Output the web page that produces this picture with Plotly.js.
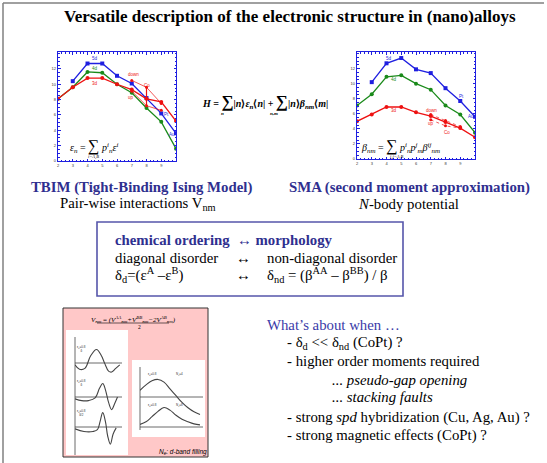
<!DOCTYPE html>
<html><head><meta charset="utf-8">
<script src="https://cdn.plot.ly/plotly-3.0.1.min.js"></script>
<style>html,body{margin:0;padding:0;background:#fff}#c{width:547px;height:463px}</style>
</head><body><div id="c"></div>
<script>
// ---------------- data ----------------
const Ne = [2, 3, 4, 5, 6, 7, 8, 9, 10];
const NeTail = [7, 8, 9];
// TBIM: on-site energies
const tb5d = [null, 10.4, 12.7, 12.7, 11.1, 10.1, 8.2, 6.2, 3.6];
const tb4d = [8.1, 9.6, 11.6, 11.5, 10.0, 8.9, 6.9, 5.1, 1.6];
const tb3d = [8.1, 9.6, 10.8, 10.8, 10.0, 9.3, 8.1, 7.7, 5.2];
const tbDown = [10.5, 9.6, 7.5];
const tbUp = [9.1, 7.2, 6.6];
// SMA: hopping integrals
const sma5d = [null, 10.2, 12.7, 13.4, 11.9, 11.4, 9.4, 7.7, 5.6];
const sma4d = [7.1, 8.6, 10.9, 11.1, 10.0, 9.2, 7.1, 5.9, 3.5];
const sma3d = [5.0, 5.9, 6.9, 6.9, 6.2, 5.7, 4.9, 4.1, 2.9];
const smaDown = [5.9, 5.1, 4.3];
const smaUp = [5.2, 4.4, 4.1];
const yTickVals = [0, 2, 4, 6, 8, 10, 12];
const xTickVals = [2, 3, 4, 5, 6, 7, 8, 9];
// inset schematic V_nm(N_e) curves
const vA_x = [0, 1, 2.2, 3.5, 4.8, 5.9, 6.6, 7.5, 8.2, 9.1, 10];
const vA_y = [-0.1, -0.35, -0.3, 0.4, 0.75, 0.4, 0, -0.45, -0.5, -0.3, -0.1];
const vB_x = [0, 1.5, 3, 4.5, 5.5, 6.2, 6.8, 7.5, 8.2, 8.8, 9.5];
const vB_y = [-0.1, -0.2, -0.2, -0.05, 0.5, 0.75, 0.4, -0.3, -0.7, -0.4, 0];
const vC_x = [0, 2, 4, 5, 5.6, 6.2, 6.8, 7.3, 7.9, 8.5, 9.2];
const vC_y = [-0.1, -0.25, -0.25, -0.15, 0.3, 0.8, 0.3, -0.5, -0.95, -0.4, -0.05];
const wA_x = [0, 1, 2, 3, 4, 5, 6, 7, 8, 9, 10];
const wA_y = [0.25, 0.45, 0.6, 0.65, 0.55, 0.3, 0.05, -0.2, -0.4, -0.55, -0.65];
const wB_x = [0, 1, 2, 3, 4, 5, 6, 7, 8, 9, 10];
const wB_y = [0.1, 0.2, 0.4, 0.6, 0.75, 0.65, 0.45, 0.3, 0.2, 0.12, 0.08];

// ---------------- helpers ----------------
const W = 547, H = 463;
const px = x => x / W, py = y => 1 - y / H;
const SERIF = 'Liberation Serif, Times New Roman, serif';
const BLUE = '#1f1fe0', GREEN = '#1a8a1a', RED = '#ee1111', NAVY = '#2f2f8f';

function chartAxes(x0, x1, y0, y1) {
  const common = {
    showgrid: false, zeroline: false, showline: true, linecolor: BLUE, linewidth: 1.2,
    mirror: 'allticks', ticks: 'inside', ticklen: 2.5, tickcolor: BLUE,
    tickfont: {size: 4, color: '#333', family: 'Liberation Sans, Arial'},
    minor: {ticks: 'inside', ticklen: 1.5, tickcolor: BLUE}
  };
  return [
    Object.assign({}, common, {domain: [px(x0), px(x1)], range: [2, 10], tickvals: xTickVals, minor: Object.assign({}, common.minor, {dtick: 0.25})}),
    Object.assign({}, common, {domain: [py(y1), py(y0)], range: [0, 14.2], tickvals: yTickVals, minor: Object.assign({}, common.minor, {dtick: 0.5})})
  ];
}
function miniAxes(x0, x1, y0, y1) {
  const ax = {showgrid: false, zeroline: false, showticklabels: false, ticks: '', showline: false, fixedrange: true};
  return [
    Object.assign({}, ax, {domain: [px(x0), px(x1)], range: [0, 10.5]}),
    Object.assign({}, ax, {domain: [py(y1), py(y0)], range: [-1, 1]})
  ];
}

const traces = [];
function series(x, y, color, sym, xa, ya, dash, w, ms) {
  traces.push({x: x, y: y, xaxis: xa, yaxis: ya, mode: 'lines+markers', type: 'scatter',
    line: {color: color, width: w || 1.3, dash: dash || 'solid'},
    marker: {color: color, symbol: sym, size: ms || 4}, connectgaps: false, hoverinfo: 'skip'});
}
// left chart (x, y)
series(Ne, tb5d, BLUE, 'square', 'x', 'y');
series(Ne, tb4d, GREEN, 'circle', 'x', 'y');
series(Ne, tb3d, RED, 'circle', 'x', 'y');
series(NeTail, tbDown, RED, 'circle', 'x', 'y', 'solid', 0.7, 3);
series(NeTail, tbUp, RED, 'circle', 'x', 'y', 'solid', 0.7, 3);
traces.push({x: [NeTail[1], NeTail[1]], y: [tbUp[1], tbDown[1]], xaxis: 'x', yaxis: 'y', mode: 'lines', line: {color: RED, width: 1.2}, hoverinfo: 'skip'});
// right chart (x2, y2)
series(Ne, sma5d, BLUE, 'square', 'x2', 'y2');
series(Ne, sma4d, GREEN, 'circle', 'x2', 'y2');
series(Ne, sma3d, RED, 'circle', 'x2', 'y2');
series(NeTail, smaDown, RED, 'circle', 'x2', 'y2', 'dot', 0.7, 3);
series(NeTail, smaUp, RED, 'circle', 'x2', 'y2', 'dot', 0.7, 3);
// inset curves
function mini(x, y, xa, ya) {
  traces.push({x: x, y: y, xaxis: xa, yaxis: ya, mode: 'lines', line: {color: '#444', width: 1.1, shape: 'spline', smoothing: 1.1}, hoverinfo: 'skip'});
}
mini(vA_x, vA_y, 'x3', 'y3');
mini(vB_x, vB_y, 'x4', 'y4');
mini(vC_x, vC_y, 'x5', 'y5');
mini(wA_x, wA_y, 'x6', 'y6');
mini(wB_x, wB_y, 'x7', 'y7');

const [xa1, ya1] = chartAxes(58, 176, 52, 161);
const [xa2, ya2] = chartAxes(357, 475, 52, 159);
const [xa3, ya3] = miniAxes(75, 122, 345, 381);
const [xa4, ya4] = miniAxes(75, 122, 379, 415);
const [xa5, ya5] = miniAxes(75, 122, 409, 445);
const [xa6, ya6] = miniAxes(140, 203, 370, 424);
const [xa7, ya7] = miniAxes(140, 203, 401, 453);

// ---------------- annotations ----------------
const ann = [];
function T(x, y, text, size, opts) {
  ann.push(Object.assign({xref: 'paper', yref: 'paper', x: px(x), y: py(y), text: text, showarrow: false,
    xanchor: 'center', yanchor: 'middle', font: {family: SERIF, size: size, color: '#000'}}, opts || {}));
}
function L(xa, ya, x, y, text, color, size) {
  ann.push({xref: xa, yref: ya, x: x, y: y, text: text, showarrow: false, font: {family: 'Liberation Sans, Arial', size: size || 4.5, color: color}});
}
const F = 14.8;
T(290, 17, '<b>Versatile description of the electronic structure in (nano)alloys</b>', 17);
T(141, 187, '<b>TBIM (Tight-Binding Ising Model)</b>', F, {font: {family: SERIF, size: F, color: NAVY}});
T(138, 204, 'Pair-wise interactions V<sub>nm</sub>', F);
T(409, 187, '<b>SMA (second moment approximation)</b>', F, {font: {family: SERIF, size: F, color: NAVY}});
T(408, 204, '<i>N</i>-body potential', F);
// middle hamiltonian
T(265, 102, '<b><i>H</i> = <span style="font-size:17px">∑</span>|<i>n</i>⟩<i>ε<sub>n</sub></i>⟨<i>n</i>| + <span style="font-size:17px">∑</span>|<i>n</i>⟩<i>β<sub>nm</sub></i>⟨<i>m</i>|</b>', 10);
T(222, 113, '<b><i>n</i></b>', 5);
T(274, 113, '<b><i>n,m</i></b>', 5);
// chart formulas
T(94, 146, '<i>ε<sub>n</sub></i> = <span style="font-size:16px">∑</span> <i>p<sup>i</sup><sub>n</sub>ε<sup>i</sup></i>', 10);
T(93, 157, '<i>i=A,B</i>', 4.5);
T(400, 146, '<i>β<sub>nm</sub></i> = <span style="font-size:16px">∑</span> <i>p<sup>i</sup><sub>n</sub>p<sup>j</sup><sub>m</sub>β<sup>ij</sup><sub>nm</sub></i>', 10);
T(397, 157, '<i>i,j=A,B</i>', 4.5);
// box
T(113, 240, '<b>chemical ordering  ↔ morphology</b>', F, {xanchor: 'left', font: {family: SERIF, size: F, color: NAVY}});
T(113, 258, 'diagonal disorder', F, {xanchor: 'left'});
T(243, 258, '↔', F);
T(265, 258, 'non-diagonal disorder', F, {xanchor: 'left'});
T(113, 275, 'δ<sub>d</sub>=(ε<sup>A</sup> –ε<sup>B</sup>)', F, {xanchor: 'left'});
T(243, 275, '↔', F);
T(265, 275, 'δ<sub>nd</sub> = (β<sup>AA</sup> – β<sup>BB</sup>) / β', F, {xanchor: 'left'});
// right text
T(265, 325, 'What’s about when …', F, {xanchor: 'left', font: {family: SERIF, size: F, color: '#3a3aa8'}});
T(285, 343, '- δ<sub>d</sub> << δ<sub>nd</sub> (CoPt) ?', F, {xanchor: 'left'});
T(285, 361, '- higher order moments required', F, {xanchor: 'left'});
T(330, 380, '<i>... pseudo-gap opening</i>', F, {xanchor: 'left'});
T(330, 397, '<i>... stacking faults</i>', F, {xanchor: 'left'});
T(285, 417, '- strong <i>spd</i> hybridization (Cu, Ag, Au) ?', F, {xanchor: 'left'});
T(285, 435, '- strong magnetic effects (CoPt) ?', F, {xanchor: 'left'});
// inset texts
T(133, 319, '<i>V<sub>nm</sub></i> = <i>(V<sup>AA</sup><sub>nm</sub>+V<sup>BB</sup><sub>nm</sub>−2V<sup>AB</sup><sub>nm</sub>)</i>', 7);
T(139, 327, '2', 5.5);
T(183, 452, '<i>N<sub>e</sub>: d-band filling</i>', 6.5, {font: {family: 'Liberation Sans, Arial', size: 6.5, color: '#000'}});
// chart line labels
L('x', 'y', 4.5, 13.3, '5d', BLUE); L('x', 'y', 4.5, 12.1, '4d', GREEN); L('x', 'y', 4.5, 10.1, '3d', RED);
L('x', 'y', 7.1, 11.3, 'down', RED); L('x', 'y', 8.05, 9.9, 'Co', RED); L('x', 'y', 6.95, 8.3, 'up', RED);
L('x', 'y', 9.35, 6.1, 'Pt', BLUE); L('x', 'y', 9.7, 3.5, 'Au', BLUE);
L('x2', 'y2', 4.2, 13.3, '5d', BLUE); L('x2', 'y2', 4.5, 10.5, '4d', GREEN); L('x2', 'y2', 4.5, 6.4, '3d', RED);
L('x2', 'y2', 7.05, 6.5, 'down', RED); L('x2', 'y2', 7.0, 4.7, 'up', RED); L('x2', 'y2', 8.1, 3.5, 'Co', RED);
L('x2', 'y2', 9.1, 8.25, 'Pt', BLUE); L('x2', 'y2', 9.75, 5.6, 'Au', BLUE);
L('x', 'y', 10, -0.6, '<b>N<sub>e</sub></b>', '#000', 5);
L('x2', 'y2', 10, -0.6, '<b>N<sub>e</sub></b>', '#000', 5);
L('x', 'y', 1.75, 14, '<b>E</b>', '#000', 4.5);
L('x2', 'y2', 1.6, 14, '<b>-β(eV)</b>', '#000', 3.5);
// mini labels
L('x3', 'y3', 1.5, 0.8, 'ε<sub>d</sub>=0.8<br>δ', '#333', 3);
L('x4', 'y4', 1.5, 0.8, 'ε<sub>d</sub>=0.8<br>δ', '#333', 3);
L('x5', 'y5', 1.5, 0.8, 'ε<sub>d</sub>=0.8<br>δ/2', '#333', 3);
L('x3', 'y3', 10.6, -0.3, 'N<sub>e</sub>', '#333', 3);
L('x4', 'y4', 10.6, -0.3, 'N<sub>e</sub>', '#333', 3);
L('x5', 'y5', 10.6, -0.3, 'N<sub>e</sub>', '#333', 3);
L('x6', 'y6', 2, 0.85, 'ε<sub>d</sub>=0.8', '#333', 3); L('x6', 'y6', 6.5, 0.85, 'N<sub>e</sub>=4', '#333', 3);
L('x7', 'y7', 2, 0.85, 'ε<sub>d</sub>=0.8', '#333', 3); L('x7', 'y7', 6.5, 0.85, 'N<sub>e</sub>=8', '#333', 3);

// ---------------- shapes ----------------
const shapes = [];
function R(x0, y0, x1, y1, line, fill) {
  shapes.push({type: 'rect', xref: 'paper', yref: 'paper', x0: px(x0), x1: px(x1), y0: py(y0), y1: py(y1),
    line: line, fillcolor: fill || 'rgba(0,0,0,0)', layer: 'below'});
}
function Ln(x0, y0, x1, y1, color, w) {
  shapes.push({type: 'line', xref: 'paper', yref: 'paper', x0: px(x0), x1: px(x1), y0: py(y0), y1: py(y1),
    line: {color: color, width: w}});
}
Ln(3, 3, 3, 463, '#808080', 1.5);
Ln(3, 3, 544, 3, '#808080', 1.5);
R(97, 222, 403, 296, {color: '#5555aa', width: 1.6});
R(63, 308, 208, 457, {color: '#333', width: 1}, '#ffc8c8');
R(66, 330, 128, 455, {width: 0}, '#ffffff');
R(132, 360, 205, 437, {width: 0}, '#ffffff');
// mini plot axes
Ln(75, 337, 75, 455, '#444', 0.8);
[[75, 363, 122, 363], [75, 397, 122, 397], [75, 427, 122, 427]].forEach(a => Ln(a[0], a[1], a[2], a[3], '#444', 0.8));
Ln(140, 367, 140, 430, '#444', 0.8);
Ln(140, 397, 203, 397, '#444', 0.8);
Ln(140, 427, 203, 427, '#444', 0.8);
// fraction bar
Ln(97, 323, 169, 323, '#000', 0.6);

const layout = {
  width: W, height: H, margin: {l: 0, r: 0, t: 0, b: 0}, showlegend: false,
  paper_bgcolor: '#fff', plot_bgcolor: 'rgba(0,0,0,0)',
  xaxis: Object.assign(xa1, {anchor: 'y'}), yaxis: Object.assign(ya1, {anchor: 'x'}),
  xaxis2: Object.assign(xa2, {anchor: 'y2'}), yaxis2: Object.assign(ya2, {anchor: 'x2'}),
  xaxis3: Object.assign(xa3, {anchor: 'y3'}), yaxis3: Object.assign(ya3, {anchor: 'x3'}),
  xaxis4: Object.assign(xa4, {anchor: 'y4'}), yaxis4: Object.assign(ya4, {anchor: 'x4'}),
  xaxis5: Object.assign(xa5, {anchor: 'y5'}), yaxis5: Object.assign(ya5, {anchor: 'x5'}),
  xaxis6: Object.assign(xa6, {anchor: 'y6'}), yaxis6: Object.assign(ya6, {anchor: 'x6'}),
  xaxis7: Object.assign(xa7, {anchor: 'y7'}), yaxis7: Object.assign(ya7, {anchor: 'x7'}),
  annotations: ann, shapes: shapes
};
Plotly.newPlot('c', traces, layout, {staticPlot: true, displayModeBar: false});
</script></body></html>
